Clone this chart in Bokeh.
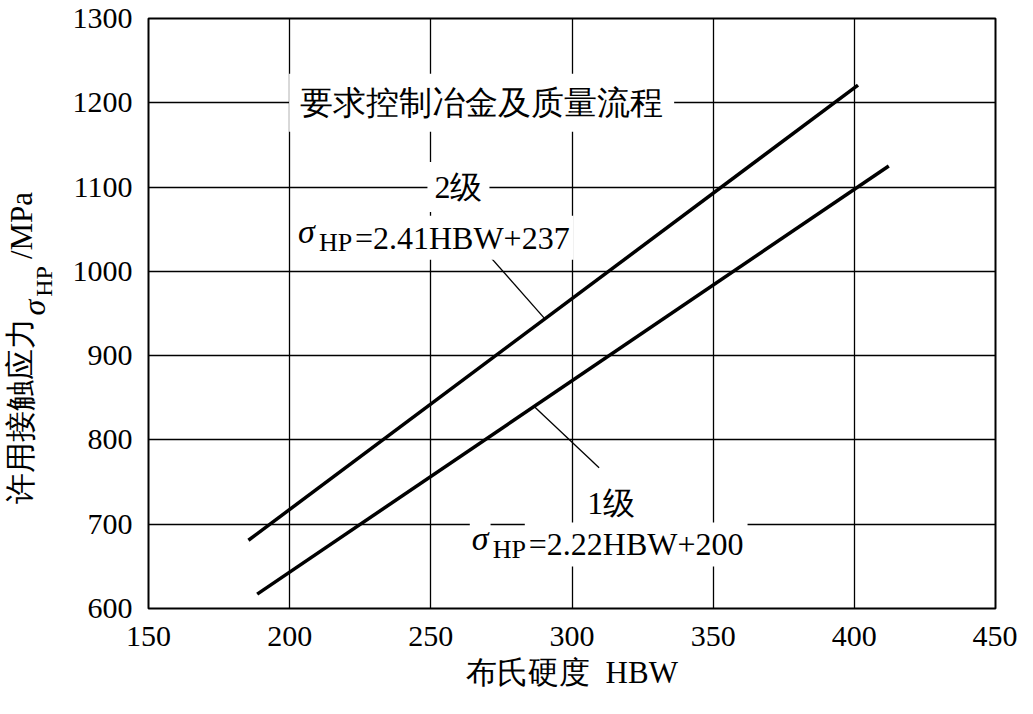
import math
import numpy as np
from bokeh.plotting import figure
from bokeh.layouts import row
from bokeh.models import Label, Range1d, FixedTicker
from bokeh.embed import file_html
from bokeh.resources import INLINE

# ---- data ----
x_ticks = [150, 200, 250, 300, 350, 400, 450]
y_ticks = [600, 700, 800, 900, 1000, 1100, 1200, 1300]

grade2_hbw = [185.4, 401.3]      # 2级  σHP = 2.41HBW + 237
grade2_sigma = [681, 1221]
grade1_hbw = [188.5, 412.2]      # 1级  σHP = 2.22HBW + 200
grade1_sigma = [617, 1125]

title_text = "要求控制冶金及质量流程"
grade2_name = "2级"
grade1_name = "1级"
grade2_eq = "=2.41HBW+237"
grade1_eq = "=2.22HBW+200"
x_label = "布氏硬度\u00a0\u00a0HBW"
y_label_cjk = "许用接触应力"
y_label_unit = "/MPa"

SERIF = "Liberation Serif"
H = 698
TOP, FRAME_H, BOTTOM = 18, 590, 90

# ---------------- main chart ----------------
p = figure(frame_width=847, frame_height=FRAME_H,
           min_border_left=88, min_border_right=22,
           min_border_top=TOP, min_border_bottom=BOTTOM,
           x_range=Range1d(150, 450), y_range=Range1d(600, 1300),
           output_backend="svg", toolbar_location=None)

p.background_fill_color = "white"
p.border_fill_color = "white"
p.outline_line_color = "black"
p.outline_line_width = 2

for ax in (p.xaxis[0], p.yaxis[0]):
    ax.major_tick_line_color = None
    ax.minor_tick_line_color = None
    ax.axis_line_color = None
    ax.major_label_text_font = SERIF
    ax.major_label_text_font_size = "30px"
    ax.major_label_text_color = "black"

p.xaxis.ticker = FixedTicker(ticks=x_ticks)
p.yaxis.ticker = FixedTicker(ticks=y_ticks)
p.xaxis.major_label_standoff = 12
p.yaxis.major_label_standoff = 10

p.xaxis.axis_label = x_label
p.xaxis.axis_label_text_font = SERIF
p.xaxis.axis_label_text_font_size = "31px"
p.xaxis.axis_label_text_font_style = "normal"
p.xaxis.axis_label_text_color = "black"
p.xaxis.axis_label_standoff = 6

p.xgrid.ticker = FixedTicker(ticks=x_ticks)
p.ygrid.ticker = FixedTicker(ticks=y_ticks)
for g in (p.xgrid[0], p.ygrid[0]):
    g.grid_line_color = "black"
    g.grid_line_width = 1.3
    g.grid_line_alpha = 1.0

# the two straight lines
p.line(grade2_hbw, grade2_sigma, line_color="black", line_width=3.5)
p.line(grade1_hbw, grade1_sigma, line_color="black", line_width=3.5)

# leader lines (end on the series lines)
l2_x0, l2_y0, l2_x1 = 268.7, 1026, 290.4
l2_y1 = float(np.interp(l2_x1, grade2_hbw, grade2_sigma))
p.line([l2_x0, l2_x1], [l2_y0, l2_y1], line_color="black", line_width=1.3)

l1_x0, l1_y0, l1_x1 = 309.6, 767, 286.6
l1_y1 = float(np.interp(l1_x1, grade1_hbw, grade1_sigma))
p.line([l1_x0, l1_x1], [l1_y0, l1_y1], line_color="black", line_width=1.3)


def lab(fig, text, x, y, size, dx=0, dy=0, align="left", baseline="alphabetic",
        style="normal", bg=True, pad=4, angle=0.0):
    kw = dict(x=x, y=y, text=text, x_offset=dx, y_offset=dy, angle=angle,
              text_font=SERIF, text_font_size=f"{size}px",
              text_font_style=style, text_color="black",
              text_align=align, text_baseline=baseline)
    if bg:
        kw.update(background_fill_color="white", background_fill_alpha=1.0,
                  padding=pad)
    fig.add_layout(Label(**kw))


# title text on the 1200 grid line
lab(p, title_text, 268, 1200, 33, align="center", baseline="middle", pad=11)

# grade 2 labels
lab(p, grade2_name, 248.8, 1100, 32, baseline="middle", pad=7)
lab(p, grade2_eq, 202.2, 1040, 32, dx=55, pad=4)
lab(p, "σ", 202.2, 1040, 34, dx=0, dy=6, style="italic", pad=2)
lab(p, "HP", 202.2, 1040, 26, dx=21, dy=-5, pad=2)

# grade 1 labels
lab(p, grade1_name, 304, 724.7, 32, pad=4)
lab(p, grade1_eq, 263.8, 676, 32, dx=55, pad=4)
lab(p, "σ", 263.8, 676, 34, dx=0, dy=6, style="italic", pad=2)
lab(p, "HP", 263.8, 676, 26, dx=21, dy=-5, pad=2)

# ---------------- y-axis title strip (left), same vertical geometry ----------------
q = figure(frame_width=60, frame_height=FRAME_H,
           min_border_left=0, min_border_right=0,
           min_border_top=TOP, min_border_bottom=BOTTOM,
           x_range=Range1d(0, 60), y_range=Range1d(H - TOP - FRAME_H, H - TOP),
           x_axis_type=None, y_axis_type=None,
           output_backend="svg", toolbar_location=None)
q.outline_line_color = None
q.background_fill_color = "white"
q.border_fill_color = "white"
q.xgrid.visible = False
q.ygrid.visible = False

A = math.pi / 2
lab(q, y_label_cjk, 20, H - 410, 31, angle=A, align="center", baseline="middle", bg=False)
lab(q, "σ", 33, H - 307, 32, angle=A, align="center", baseline="middle",
    style="italic", bg=False)
lab(q, "HP", 43, H - 281, 24, angle=A, align="center", baseline="middle", bg=False)
lab(q, y_label_unit, 21, H - 225, 31, angle=A, align="center", baseline="middle", bg=False)

layout = row(q, p, spacing=0)
open("out.html", "w").write(file_html(layout, INLINE))
